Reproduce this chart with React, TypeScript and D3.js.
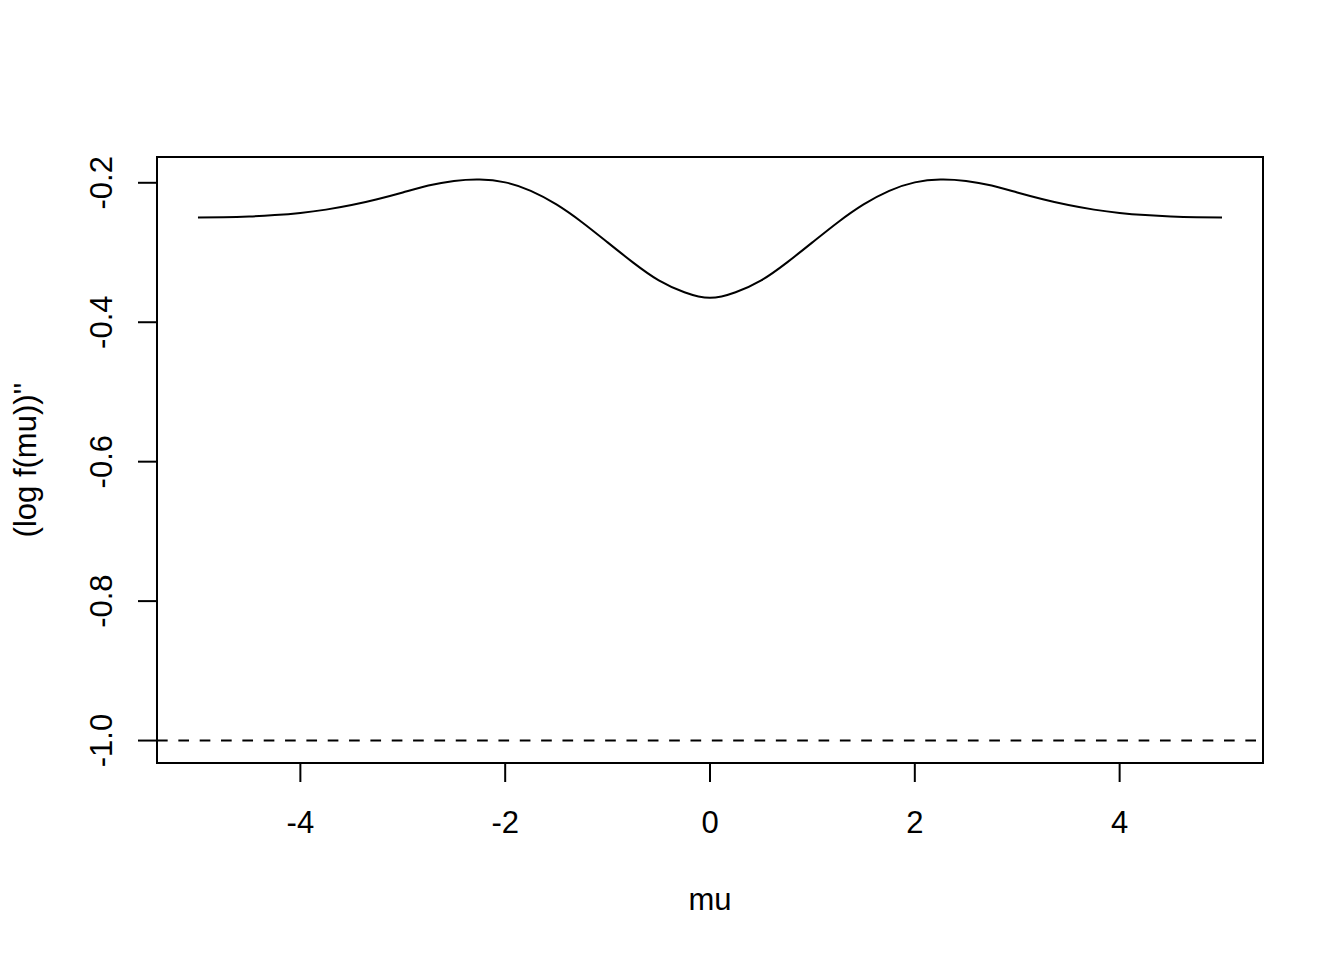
import React, { useEffect, useRef } from 'react';
import * as d3 from 'd3';

// values
const muValues = [
  -5, -4.75, -4.5, -4.25, -4, -3.75, -3.5, -3.25, -3, -2.75, -2.5, -2.25, -2, -1.75, -1.5, -1.25, -1, -0.75, -0.5,
  -0.25, 0, 0.25, 0.5, 0.75, 1, 1.25, 1.5, 1.75, 2, 2.25, 2.5, 2.75, 3, 3.25, 3.5, 3.75, 4, 4.25, 4.5, 4.75, 5,
];
const curveValues = [
  -0.2499, -0.2494, -0.2483, -0.2463, -0.2432, -0.2385, -0.232, -0.2236, -0.2139, -0.204, -0.1973, -0.1952, -0.1994,
  -0.2115, -0.231, -0.2565, -0.2855, -0.3145, -0.34, -0.357, -0.365, -0.357, -0.34, -0.3145, -0.2855, -0.2565,
  -0.231, -0.2115, -0.1994, -0.1952, -0.1973, -0.204, -0.2139, -0.2236, -0.232, -0.2385, -0.2432, -0.2463, -0.2483,
  -0.2494, -0.2499,
];
const xTicks = [-4, -2, 0, 2, 4];
const yTicks = [-1.0, -0.8, -0.6, -0.4, -0.2];
const refLine = -1;
const xLabel = 'mu';
const yLabel = "(log f(mu))''";

const App = () => {
  const ref = useRef<SVGSVGElement>(null);

  useEffect(() => {
    const svg = d3.select(ref.current);
    svg.selectAll('*').remove();

    const font = "'Liberation Sans', Arial, Helvetica, sans-serif";
    const box = { left: 157, right: 1263, top: 157, bottom: 763 };

    // R style 4% range extension
    const xMin = d3.min(muValues)!;
    const xMax = d3.max(muValues)!;
    const xPad = (xMax - xMin) * 0.04;
    const yMin = Math.min(refLine, d3.min(curveValues)!);
    const yMax = d3.max(curveValues)!;
    const yPad = (yMax - yMin) * 0.04;

    const x = d3.scaleLinear().domain([xMin - xPad, xMax + xPad]).range([box.left, box.right]);
    const y = d3.scaleLinear().domain([yMin - yPad, yMax + yPad]).range([box.bottom, box.top]);

    const data = muValues.map((m, i) => ({ m, v: curveValues[i] }));

    const line = d3
      .line<{ m: number; v: number }>()
      .x((d) => x(d.m))
      .y((d) => y(d.v))
      .curve(d3.curveNatural);

    svg
      .append('path')
      .datum(data)
      .attr('d', line)
      .attr('fill', 'none')
      .attr('stroke', '#000')
      .attr('stroke-width', 2);

    // dashed reference line across the plot region
    svg
      .append('line')
      .attr('x1', box.left)
      .attr('x2', box.right)
      .attr('y1', y(refLine))
      .attr('y2', y(refLine))
      .attr('stroke', '#000')
      .attr('stroke-width', 2)
      .attr('stroke-dasharray', '10.67,10.67');

    // box
    svg
      .append('rect')
      .attr('x', box.left)
      .attr('y', box.top)
      .attr('width', box.right - box.left)
      .attr('height', box.bottom - box.top)
      .attr('fill', 'none')
      .attr('stroke', '#000')
      .attr('stroke-width', 2);

    // x axis
    const gx = svg.append('g');
    gx.append('line')
      .attr('x1', x(xTicks[0]))
      .attr('x2', x(xTicks[xTicks.length - 1]))
      .attr('y1', box.bottom)
      .attr('y2', box.bottom)
      .attr('stroke', '#000')
      .attr('stroke-width', 2);
    xTicks.forEach((t) => {
      gx.append('line')
        .attr('x1', x(t))
        .attr('x2', x(t))
        .attr('y1', box.bottom)
        .attr('y2', box.bottom + 19)
        .attr('stroke', '#000')
        .attr('stroke-width', 2);
      gx.append('text')
        .attr('x', x(t))
        .attr('y', 833)
        .attr('text-anchor', 'middle')
        .attr('font-family', font)
        .attr('font-size', 31)
        .text(String(t));
    });

    // y axis
    const gy = svg.append('g');
    gy.append('line')
      .attr('x1', box.left)
      .attr('x2', box.left)
      .attr('y1', y(yTicks[0]))
      .attr('y2', y(yTicks[yTicks.length - 1]))
      .attr('stroke', '#000')
      .attr('stroke-width', 2);
    yTicks.forEach((t) => {
      gy.append('line')
        .attr('x1', box.left - 19)
        .attr('x2', box.left)
        .attr('y1', y(t))
        .attr('y2', y(t))
        .attr('stroke', '#000')
        .attr('stroke-width', 2);
      gy.append('text')
        .attr('transform', `translate(112, ${y(t)}) rotate(-90)`)
        .attr('text-anchor', 'middle')
        .attr('font-family', font)
        .attr('font-size', 31)
        .text(t.toFixed(1));
    });

    // axis titles
    svg
      .append('text')
      .attr('x', (box.left + box.right) / 2)
      .attr('y', 910)
      .attr('text-anchor', 'middle')
      .attr('font-family', font)
      .attr('font-size', 31)
      .text(xLabel);

    svg
      .append('text')
      .attr('transform', `translate(36, ${(box.top + box.bottom) / 2}) rotate(-90)`)
      .attr('text-anchor', 'middle')
      .attr('font-family', font)
      .attr('font-size', 31)
      .text(yLabel);
  }, []);

  return (
    <div>
      <svg
        ref={ref}
        width={1344}
        height={960}
        style={{ position: 'absolute', left: 0, top: 0, background: '#fff' }}
      />
    </div>
  );
};

export default App;
